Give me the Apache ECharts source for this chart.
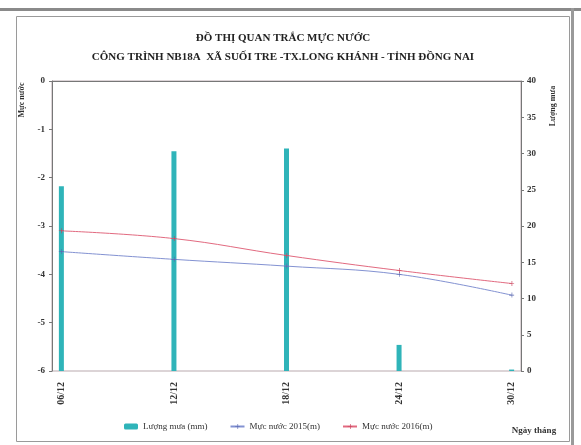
<!DOCTYPE html>
<html>
<head>
<meta charset="utf-8">
<script src="https://cdn.jsdelivr.net/npm/echarts@6/dist/echarts.min.js"></script>
<style>html,body{margin:0;padding:0;background:#fff;}#c{width:581px;height:445px;}</style>
</head>
<body>
<div id="c"></div>
<script>
var categories = ['06/12','07/12','08/12','09/12','10/12','11/12','12/12','13/12','14/12','15/12','16/12','17/12','18/12','19/12','20/12','21/12','22/12','23/12','24/12','25/12','26/12','27/12','28/12','29/12','30/12'];
var obsDates = ['06/12','12/12','18/12','24/12','30/12'];
var rainValues = [25.5, 30.3, 30.7, 3.6, 0.2];
var level2015 = [-3.53, -3.69, -3.83, -4.00, -4.43];
var level2016 = [-3.10, -3.26, -3.61, -3.92, -4.19];
var leftTicks = [0, -1, -2, -3, -4, -5, -6];
var rightTicks = [0, 5, 10, 15, 20, 25, 30, 35, 40];

function spread(vals) {
  return categories.map(function (c) {
    var i = obsDates.indexOf(c);
    return i >= 0 ? vals[i] : null;
  });
}
var serif = 'Liberation Serif';
var plus = 'path://M0,4 L8,4 L8,5 L0,5 Z M4,0 L5,0 L5,9 L4,9 Z';
var chart = echarts.init(document.getElementById('c'), null, {renderer: 'canvas'});
chart.setOption({
  animation: false,
  backgroundColor: '#fff',
  grid: {left: 52, right: 60, top: 81, bottom: 74, show: true, borderColor: '#b9a9ae', borderWidth: 1, backgroundColor: 'transparent'},
  legend: {
    left: 119, top: 417, itemGap: 22, itemWidth: 14, itemHeight: 6,
    textStyle: {fontFamily: serif, fontSize: 9, color: '#333'},
    data: ['Lượng mưa (mm)', 'Mực nước 2015(m)', 'Mực nước 2016(m)']
  },
  xAxis: {
    type: 'category', data: categories, boundaryGap: true,
    axisLine: {lineStyle: {color: '#777', width: 1}},
    axisTick: {interval: 5, length: 3, lineStyle: {color: '#777'}},
    axisLabel: {interval: 5, rotate: 90, fontFamily: serif, fontSize: 10, fontWeight: 'bold', color: '#333', margin: 11}
  },
  yAxis: [{
    type: 'value', min: -6, max: 0, interval: 1,
    axisLine: {show: true, lineStyle: {color: '#777'}},
    axisTick: {show: true, length: 3, lineStyle: {color: '#777'}},
    splitLine: {show: false},
    axisLabel: {fontFamily: serif, fontSize: 9, fontWeight: 'bold', color: '#333', margin: 7,
      formatter: function (v) { return leftTicks.indexOf(v) >= 0 ? String(v) : ''; }}
  }, {
    type: 'value', min: 0, max: 40, interval: 5, position: 'right',
    axisLine: {show: true, lineStyle: {color: '#777'}},
    axisTick: {show: true, length: 3, lineStyle: {color: '#777'}},
    splitLine: {show: false},
    axisLabel: {fontFamily: serif, fontSize: 9, fontWeight: 'bold', color: '#333', margin: 6,
      formatter: function (v) { return rightTicks.indexOf(v) >= 0 ? String(v) : ''; }}
  }],
  series: [{
    name: 'Lượng mưa (mm)', type: 'bar', yAxisIndex: 1, barWidth: 5,
    itemStyle: {color: '#2fb4b9'},
    data: spread(rainValues)
  }, {
    name: 'Mực nước 2015(m)', type: 'line', yAxisIndex: 0, smooth: 0.4, connectNulls: true,
    symbol: plus, symbolSize: 5, showAllSymbol: true,
    lineStyle: {color: '#8392d2', width: 1}, itemStyle: {color: '#5a68b0'},
    data: spread(level2015)
  }, {
    name: 'Mực nước 2016(m)', type: 'line', yAxisIndex: 0, smooth: 0.4, connectNulls: true,
    symbol: plus, symbolSize: 5, showAllSymbol: true,
    lineStyle: {color: '#e26a80', width: 1}, itemStyle: {color: '#c8405a'},
    data: spread(level2016)
  }],
  graphic: [
    {type: 'rect', left: 14, top: 14, shape: {width: 553, height: 425}, style: {fill: 'none', stroke: '#9a9a9a', lineWidth: 1}, silent: true, z: -1},
    {type: 'rect', left: 0, top: 8, shape: {width: 581, height: 3}, style: {fill: '#8a8a8a'}, silent: true},
    {type: 'rect', left: 571, top: 8, shape: {width: 3, height: 437}, style: {fill: '#9a9a9a'}, silent: true},
    {type: 'text', x: 283, y: 38,
      style: {text: 'ĐỒ THỊ QUAN TRẮC MỰC NƯỚC', fontFamily: serif, fontSize: 11, fontWeight: 'bold', fill: '#222', align: 'center', verticalAlign: 'middle'}},
    {type: 'text', x: 283, y: 57,
      style: {text: 'CÔNG TRÌNH NB18A  XÃ SUỐI TRE -TX.LONG KHÁNH - TỈNH ĐỒNG NAI', fontFamily: serif, fontSize: 11, fontWeight: 'bold', fill: '#222', align: 'center', verticalAlign: 'middle'}},
    {type: 'text', x: 22, y: 100, rotation: Math.PI / 2,
      style: {text: 'Mực nước', fontFamily: serif, fontSize: 8, fontWeight: 'bold', fill: '#333', align: 'center', verticalAlign: 'middle'}},
    {type: 'text', x: 553, y: 106, rotation: Math.PI / 2,
      style: {text: 'Lượng mưa', fontFamily: serif, fontSize: 8, fontWeight: 'bold', fill: '#333', align: 'center', verticalAlign: 'middle'}},
    {type: 'text', x: 534, y: 431,
      style: {text: 'Ngày tháng', fontFamily: serif, fontSize: 9, fontWeight: 'bold', fill: '#333', align: 'center', verticalAlign: 'middle'}}
  ]
});
</script>
</body>
</html>
